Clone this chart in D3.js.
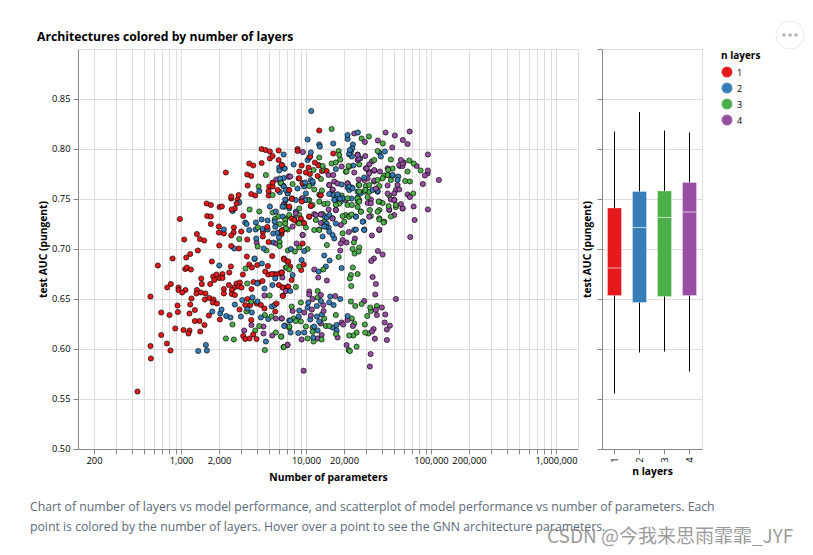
<!DOCTYPE html>
<html><head><meta charset="utf-8">
<script src="https://cdn.jsdelivr.net/npm/d3@7/dist/d3.min.js"></script>
<style>html,body{margin:0;padding:0;background:#fff;}svg{display:block;}text{font-family:"Open Sans","Noto Sans",sans-serif;}</style>
</head><body><div id="chart"></div>
<script>
// each row: [log10(number of parameters), test AUC]
const layer1 = [[3.641,.8005],[3.673,.7995],[3.707,.798],[3.777,.799],[3.729,.7935],[3.707,.791],[3.777,.7895],[3.542,.786],[3.574,.784],[3.641,.7865],[3.803,.7845],[3.355,.777],[3.526,.775],[3.558,.7735],[3.729,.767],[3.529,.764],[3.702,.763],[3.729,.763],[3.769,.7595],[3.697,.7585],[3.697,.754],[3.558,.7555],[3.59,.754],[3.457,.7545],[3.398,.753],[3.398,.751],[3.449,.75],[3.441,.746],[3.427,.741],[3.401,.74],[3.201,.746],[3.235,.7445],[3.305,.7425],[3.323,.743],[3.494,.7335],[2.987,.7305],[3.206,.7335],[3.235,.733],[3.235,.7255],[3.299,.723],[3.419,.722],[3.299,.717],[3.339,.716],[3.417,.717],[3.398,.714],[3.478,.718],[3.651,.7175],[3.651,.713],[3.686,.7225],[3.803,.719],[3.801,.7155],[3.022,.71],[3.123,.7155],[3.147,.7105],[3.182,.709],[3.526,.71],[3.697,.7075],[3.302,.704],[3.398,.7035],[3.459,.701],[3.07,.6955],[3.131,.699],[2.929,.691],[3.038,.692],[3.523,.693],[3.726,.6935],[3.819,.691],
[2.811,.684],[3.243,.688],[3.395,.683],[3.542,.685],[3.606,.6845],[3.563,.682],[3.691,.6835],[3.67,.678],[3.03,.6805],[3.043,.682],[3.075,.68],[3.382,.677],[3.491,.675],[3.158,.671],[3.254,.673],[3.28,.675],[3.328,.6755],[3.328,.6715],[3.302,.6715],[3.262,.6695],[3.163,.6655],[3.23,.6655],[2.915,.6655],[2.886,.662],[2.976,.662],[2.976,.6595],[3.032,.6595],[3.006,.657],[3.123,.6595],[3.12,.656],[3.155,.657],[3.192,.656],[3.08,.651],[3.187,.65],[3.222,.6515],[3.256,.65],[3.251,.647],[3.283,.646],[2.752,.653],[2.968,.644],[3.07,.645],[3.107,.6395],[2.971,.6375],[2.838,.637],[2.904,.6345],[3.064,.636],[3.219,.634],[3.107,.6285],[3.144,.6285],[3.184,.6245],[3.307,.63],[2.95,.621],[3.016,.6195],[3.064,.619],[3.056,.616],[3.15,.618],[2.838,.6145],[2.883,.606],[2.752,.6035],[2.912,.599],[2.755,.591],[2.648,.558],[3.379,.6645],[3.422,.662],[3.44,.666],[3.467,.667],[3.456,.663],[3.48,.662],[3.576,.6675],[3.616,.667],[3.648,.6685],[3.339,.6605],[3.339,.656],[3.403,.6595],[3.403,.6555],[3.427,.6545],[3.56,.6605],[3.779,.6645],[3.811,.662],[3.849,.6625],[3.811,.6535],[3.528,.6505],[3.51,.6445],[3.55,.6445],[3.6,.646],[3.635,.6445],[3.664,.641],[3.76,.646],[3.75,.638],[3.464,.64],[3.558,.6295],[3.494,.6135],[3.51,.6105],[3.544,.611],[3.6,.6105],[3.574,.615],[3.694,.675],[3.723,.6755],[3.755,.675],[3.782,.676],[3.803,.677],[3.848,.688],
[4.102,.819],[3.929,.8005],[3.929,.7985],[4.214,.796],[4.03,.793],[4.067,.787],[4.097,.784],[3.961,.784],[4.017,.782],[3.942,.778],[3.995,.777],[4.123,.7785],[4.161,.7785],[4.027,.7755],[4.089,.7735],[3.803,.7845],[3.937,.771],[3.969,.766],[3.857,.7595],[3.883,.7505],[3.963,.748],[4.11,.754],[4.035,.7435],[3.862,.743],[4.022,.733],[3.883,.731],[3.974,.727],[3.929,.727],
[3.822,.69],[3.854,.688],[3.977,.685],[3.958,.6795],[3.87,.683],[3.803,.677],[3.881,.6695],[3.854,.663],[3.809,.662],[3.811,.654],[3.969,.706],[3.801,.718],
[3.862,.7595],[3.849,.7562],[3.883,.7512],[3.969,.7662],[3.942,.7712],[3.902,.7295],[3.982,.7262],[4.022,.7328],[3.955,.731],[4.115,.7545],[4.035,.7438],[3.795,.7178],[3.809,.7195]];
const layer2 = [[3.817,.795],[3.782,.782],[3.782,.779],[3.825,.781],[3.787,.771],[3.819,.7715],[3.707,.743],[3.622,.7585],[3.819,.763],[3.835,.7595],[3.787,.7575],[3.835,.7495],[3.462,.747],[3.409,.7385],[3.755,.738],[3.51,.727],[3.521,.7255],[3.595,.727],[3.641,.73],[3.689,.729],[3.593,.72],[3.542,.7195],[3.649,.7205],[3.689,.72],[3.339,.72],[3.75,.7228],[3.734,.716],[3.769,.7168],[3.779,.712],[3.598,.711],[3.734,.707],[3.422,.701],[3.657,.701],[3.585,.691],[3.745,.728],
[3.302,.684],[3.584,.6905],[3.643,.686],[3.606,.666],[3.664,.661],[3.728,.6645],[3.75,.671],[3.427,.645],[3.486,.6495],[3.568,.652],[3.528,.641],[3.563,.637],[3.608,.648],[3.475,.633],[3.32,.64],[3.246,.638],[3.31,.636],[3.358,.6335],[3.392,.632],[3.635,.632],[3.694,.6305],[3.723,.643],[3.744,.6445],[3.862,.629],[3.822,.6235],[3.675,.608],[3.195,.6045],[3.134,.5985],[3.203,.599],
[4.038,.8385],[4.009,.81],[4.102,.805],[4.107,.803],[4.214,.806],[4.329,.8145],[4.329,.8105],[4.411,.817],[4.371,.805],[4.366,.801],[4.347,.7995],[4.342,.795],[4.355,.798],[4.363,.793],[4.43,.791],[4.035,.797],[4.009,.7895],[3.897,.785],[3.822,.781],[4.022,.792],[4.235,.7805],[4.374,.784],[4.582,.797],[4.627,.798],[4.595,.793],[4.689,.774],[4.734,.773],[4.729,.7695],[4.462,.772],[4.182,.7645],[4.281,.765],[4.329,.762],[4.363,.762],[4.342,.7595],[4.569,.7585],[4.182,.7555],[4.214,.7545],[4.249,.7545],[4.241,.751],[4.267,.751],[4.222,.7495],[4.275,.748],[4.361,.751],[4.43,.756],[4.049,.768],[3.99,.767],[3.929,.761],[3.982,.763],[3.995,.756],[3.83,.75],[3.99,.7495],[3.915,.7495],[4.142,.7335],[4.163,.732],[4.182,.7345],[4.142,.723],[4.177,.722],[4.161,.726],[4.395,.733],[4.235,.726],[4.395,.72],[4.454,.728],[4.462,.72],[3.809,.733],[3.902,.731],
[4.129,.713],[4.222,.711],[4.382,.7195],[4.462,.7195],[3.982,.6985],[3.875,.7005],[4.142,.694],[4.185,.689],[4.155,.683],[4.281,.6815],[4.097,.678],[3.961,.6895],[3.889,.6745],[3.87,.6585],[4.19,.653],[4.182,.647],[4.217,.6445],[4.27,.6505],[4.115,.6485],[4.014,.647],[4.083,.6435],[4.009,.642],[3.942,.639],[4.123,.635],[4.083,.633],[3.87,.629],[3.937,.633],[4.03,.63],[4.102,.628],[3.827,.624],[4.062,.623],[4.089,.619],[4.209,.622],[4.241,.6245],[4.241,.619],[4.329,.6335],[3.873,.617],[3.934,.6165],[3.982,.617],[4.054,.612],
[4.249,.7552],[4.235,.7505],[4.289,.7512],[3.814,.7638],[3.849,.7562],[3.809,.7428],[3.915,.7378],[3.862,.7412],[4.155,.7228],[4.182,.7178],[4.209,.7145],[4.049,.7662],[4.035,.7695],[4.342,.796],[4.342,.7628],[4.369,.7612],[4.409,.7578],[4.569,.7578],[4.529,.7595],[4.395,.7328],[4.689,.7745],[4.449,.7278]];
const layer3 = [[3.675,.7745],[3.617,.763],[3.545,.74],[3.622,.738],[3.731,.737],[3.774,.733],[3.747,.7305],[3.787,.7255],[3.83,.7295],[3.83,.726],[3.849,.72],[3.462,.7105],[3.609,.703],[3.785,.7075],[3.785,.7035],[3.678,.699],[3.851,.699],[3.793,.767],[3.729,.7545],[3.611,.722],
[3.512,.681],[3.835,.682],[3.526,.666],[3.705,.654],[3.558,.648],[3.52,.638],[3.667,.6345],[3.72,.633],[3.408,.625],[3.622,.6235],[3.59,.619],[3.755,.617],[3.798,.613],[3.355,.611],[3.419,.61],[3.667,.5995],[3.816,.6025],[3.862,.623],
[4.201,.8205],[4.499,.813],[4.441,.811],[4.611,.806],[4.569,.7985],[4.257,.7985],[4.262,.7945],[4.27,.79],[4.201,.786],[4.235,.787],[4.102,.792],[4.129,.7835],[4.097,.7845],[4.142,.7795],[4.057,.7795],[4.337,.7835],[4.321,.778],[4.422,.785],[4.542,.7895],[4.675,.79],[4.689,.781],[4.654,.7795],[4.622,.774],[4.654,.7745],[4.822,.789],[4.857,.786],[4.809,.778],[4.913,.779],[4.79,.7685],[4.827,.768],[4.854,.756],[4.569,.7695],[4.542,.768],[4.417,.7645],[4.475,.7635],[4.502,.7645],[4.47,.7595],[4.409,.752],[4.422,.7495],[4.409,.748],[4.489,.7525],[4.422,.758],[4.582,.7635],[4.662,.754],[4.715,.7425],[4.657,.7435],[4.577,.748],[4.609,.7465],[4.582,.7395],[4.507,.7395],[4.409,.7425],[4.363,.7445],[4.329,.7445],[4.281,.754],[4.262,.746],[4.235,.7445],[4.123,.759],[4.102,.755],[4.022,.7495],[4.142,.7455],[4.169,.746],[4.049,.7445],[3.942,.741],[3.942,.7345],[3.889,.7655],[3.795,.7665],[4.022,.7635],[4.062,.76],[4.115,.7705],[4.342,.7335],[4.289,.7335],[4.361,.735],[4.435,.738],[4.515,.7335],[4.582,.73],[4.617,.727],[4.675,.733],[4.075,.7295],[4.129,.7355],[3.835,.731],[3.942,.726],[3.995,.722],[4.102,.72],
[4.163,.7045],[4.257,.6925],[4.422,.702],[4.417,.698],[4.369,.7005],[4.385,.696],[4.379,.707],[4.134,.68],[4.371,.682],[4.355,.6745],[4.347,.671],[4.409,.6755],[4.358,.6635],[3.942,.683],[3.942,.702],[3.907,.698],[4.009,.7005],[3.841,.682],[3.862,.68],[3.915,.6625],[4.089,.6585],[4.089,.652],[3.955,.647],[3.881,.643],[4.355,.648],[4.39,.6435],[4.441,.6455],[4.563,.6435],[4.51,.642],[4.515,.6385],[4.486,.6335],[4.235,.6345],[3.897,.631],[3.915,.6285],[3.995,.623],[3.955,.628],[4.142,.631],[4.155,.6235],[4.182,.6235],[4.049,.622],[4.363,.631],[4.382,.626],[4.467,.625],[4.47,.617],[4.494,.616],[4.401,.617],[4.374,.614],[4.342,.614],[4.235,.6155],[4.049,.6178],[3.862,.6218],[3.798,.6128],[4.009,.611],[4.121,.61],[4.057,.608],[3.819,.6025],[4.337,.5995],[4.401,.6028],[4.347,.5985],
[3.795,.7662],[3.822,.7428],[3.862,.7345],[3.835,.7212],[4.062,.7195],[4.102,.7195],[4.142,.7278],[4.209,.7312],[4.009,.7495],[4.102,.7478],[4.302,.7278],[4.289,.7162],[4.342,.7828],[4.315,.7778],[4.422,.7645],[4.462,.7578],[4.502,.7578],[4.329,.7512],[4.409,.7512],[4.422,.7478],[4.435,.7378],[4.315,.7345],[4.342,.7328],[4.582,.7478],[4.569,.7378],[4.622,.7278],[4.582,.7312],[4.715,.7445],[4.649,.7745],[4.675,.7695],[4.609,.7712]];
const layer4 = [[3.758,.77],[3.817,.745],[3.601,.707],[3.758,.706],[3.857,.773],
[3.744,.6755],[3.808,.672],[3.835,.6585],[3.664,.654],[3.755,.631],[3.8,.631],[3.56,.6245],[3.656,.623],[3.502,.619],[3.656,.616],[3.726,.614],[3.848,.6045],
[4.825,.818],[4.707,.814],[4.633,.817],[4.382,.816],[4.571,.809],[4.467,.8075],[4.771,.8095],[4.809,.8055],[4.686,.802],[4.971,.795],[3.971,.7975],[4.409,.795],[4.417,.791],[4.47,.7935],[4.523,.788],[4.502,.785],[4.281,.783],[4.481,.781],[4.497,.778],[4.382,.777],[4.542,.7795],[4.587,.778],[4.755,.7895],[4.777,.787],[4.747,.7835],[4.769,.7835],[4.881,.7835],[4.971,.779],[4.969,.776],[4.947,.774],[4.931,.7655],[5.059,.7695],[4.417,.77],[4.489,.771],[4.542,.769],[4.177,.7745],[4.214,.7745],[3.87,.773],[4.222,.768],[4.249,.766],[4.329,.766],[4.209,.76],[4.649,.764],[4.729,.7645],[4.715,.7595],[4.742,.76],[4.649,.756],[4.702,.756],[4.809,.755],[4.827,.7525],[4.702,.7495],[4.675,.75],[4.755,.7455],[4.769,.741],[4.857,.743],[4.971,.74],[4.865,.7295],[4.555,.761],[4.515,.75],[4.489,.7465],[4.662,.74],[4.177,.74],[4.235,.7395],[4.315,.7495],[4.115,.735],[4.062,.7355],[4.115,.7265],[4.209,.731],[3.822,.7455],[3.963,.751],[3.915,.736],[3.889,.723],[4.582,.72],
[4.339,.7175],[4.387,.711],[4.321,.707],[4.289,.7095],[4.275,.706],[4.27,.699],[4.582,.7195],[4.523,.714],[4.83,.7125],[4.571,.6985],[4.609,.695],[4.539,.691],[4.518,.6885],[3.921,.706],[3.969,.7145],[4.062,.68],[4.094,.672],[4.163,.669],[4.529,.6725],[4.555,.6655],[4.55,.655],[4.715,.6505],[4.462,.6485],[4.603,.642],[4.555,.6395],[4.563,.6345],[4.63,.635],[4.625,.627],[4.667,.6238],[4.643,.62],[4.537,.6205],[4.523,.618],[4.547,.6108],[4.643,.6095],[4.321,.6045],[4.513,.5955],[4.507,.583],[3.977,.5788],[3.849,.6048],[3.961,.61],[4.089,.611],[4.249,.612],[4.121,.6145],[3.803,.631],[3.889,.6385],[3.982,.637],[4.022,.658],[4.022,.655],[4.049,.6505],[4.115,.6545],[4.23,.6535],[4.134,.6445],[4.043,.64],[4.035,.634],[4.137,.6385],[4.115,.626],[4.281,.627],[4.294,.625],[4.329,.6295],[4.371,.6235],
[3.862,.7728],[3.969,.7512],[4.075,.7345],[4.115,.7352],[4.182,.7645],[4.209,.7595],[4.275,.7245],[3.969,.7145],[4.235,.7395],[4.409,.7945],[4.409,.7895],[4.329,.7662],[4.462,.7695],[4.475,.7812],[4.502,.7762],[4.542,.7788],[4.742,.7845],[4.769,.7862],[4.649,.7812],[4.702,.7495],[4.662,.7395],[4.702,.7345],[4.769,.7412],[4.515,.7462],[4.502,.7328]];

const layers = ["1","2","3","4"];
const colors = ["#e41a1c","#377eb8","#4daf4a","#984ea3"];
// box plot: whisker low, q1, median, q3, whisker high
const boxLow = [.556,.597,.598,.578];
const boxQ1 = [.654,.647,.653,.654];
const boxMedian = [.6815,.722,.732,.7375];
const boxQ3 = [.7415,.758,.7585,.767];
const boxHigh = [.818,.8375,.819,.817];

const xTicks = [200,300,400,500,600,700,800,900,1000,2000,3000,4000,5000,6000,7000,8000,9000,10000,20000,30000,40000,50000,60000,70000,80000,90000,100000,200000,300000,400000,500000,600000,700000,800000,900000,1000000];
const xLabelled = [200,1000,2000,10000,20000,100000,200000,1000000];
const yTicks = [.50,.55,.60,.65,.70,.75,.80,.85];
const boxYTicks = [.50,.55,.60,.65,.70,.75,.80,.85,.90];
const titleText = "Architectures colored by number of layers";
const xTitle = "Number of parameters";
const yTitle = "test AUC (pungent)";
const boxXTitle = "n layers";
const legendTitle = "n layers";
const captionLines = ["Chart of number of layers vs model performance, and scatterplot of model performance vs number of parameters. Each","point is colored by the number of layers. Hover over a point to see the GNN architecture parameters."];
const watermark = "CSDN @今我来思雨霏霏_JYF";

const svg = d3.select("#chart").append("svg").attr("width",813).attr("height",555);
const grid = "#ddd", axisCol = "#888", txt = "#000";
const x = d3.scaleLog().domain([150,1500000]).range([78.5,578.5]);
const y = d3.scaleLinear().domain([.5,.9]).range([449.5,49.5]);
const xBand = d3.scaleBand().domain(layers).range([602.5,702.5]).padding(0);
const color = d3.scaleOrdinal().domain(layers).range(colors);
const F = '"Open Sans","Noto Sans",sans-serif';
const tickFont = 9.3;

// scatter panel grid
const g = svg.append("g");
g.selectAll(".gx").data(xTicks).join("line").attr("x1",d=>Math.round(x(d))+.5).attr("x2",d=>Math.round(x(d))+.5).attr("y1",49.5).attr("y2",449.5).attr("stroke",grid);
g.selectAll(".gy").data(boxYTicks).join("line").attr("x1",78.5).attr("x2",578.5).attr("y1",d=>y(d)).attr("y2",d=>y(d)).attr("stroke",grid);
g.append("line").attr("x1",578.5).attr("x2",578.5).attr("y1",49.5).attr("y2",449.5).attr("stroke",grid);

// scatter points
const all = [];
[layer1,layer2,layer3,layer4].forEach((arr,k)=>arr.forEach((d,i)=>all.push({n:layers[k],p:Math.pow(10,d[0]),auc:d[1],i})));
all.sort((a,b)=>(a.i%5)-(b.i%5) || (+b.n)-(+a.n));
g.selectAll(".pt").data(all).join("circle").attr("cx",d=>x(d.p)).attr("cy",d=>y(d.auc)).attr("r",2.6)
 .attr("fill",d=>color(d.n)).attr("stroke","#000").attr("stroke-opacity",.65).attr("stroke-width",1);

// axes
function style(sel){
  sel.select(".domain").attr("stroke",axisCol);
  sel.selectAll(".tick line").attr("stroke",axisCol);
  sel.selectAll("text").attr("font-size",tickFont).attr("fill",txt).attr("font-family",F);
}
const xAxis = d3.axisBottom(x).offset(0).tickValues(xTicks).tickSize(5).tickSizeOuter(0).tickFormat(d=>xLabelled.includes(d)?d3.format(",")(d):"");
const xG = svg.append("g").attr("transform","translate(0,449.5)").call(xAxis).call(style);
xG.selectAll(".tick").attr("transform",d=>`translate(${Math.round(x(d))+.5},0)`);
const yAxis = d3.axisLeft(y).offset(0).tickValues(yTicks).tickSize(5).tickSizeOuter(0).tickFormat(d3.format(".2f"));
svg.append("g").attr("transform","translate(78.5,0)").call(yAxis).call(style);

svg.append("text").attr("x",37).attr("y",41).attr("font-size",12.2).attr("font-weight",700).attr("fill",txt).text(titleText);
svg.append("text").attr("x",328.5).attr("y",481).attr("text-anchor","middle").attr("font-size",10.3).attr("font-weight",700).text(xTitle);
svg.append("text").attr("transform","translate(46.5,249.5) rotate(-90)").attr("text-anchor","middle").attr("font-size",10.3).attr("font-weight",700).text(yTitle);

// box panel
const b = svg.append("g");
b.selectAll(".gy").data(boxYTicks).join("line").attr("x1",602.5).attr("x2",702.5).attr("y1",d=>y(d)).attr("y2",d=>y(d)).attr("stroke",grid);
b.append("line").attr("x1",702.5).attr("x2",702.5).attr("y1",49.5).attr("y2",449.5).attr("stroke",grid);
const boxW = 14;
const cx = l=>xBand(l)+xBand.bandwidth()/2-.5;
b.selectAll(".wh").data(layers).join("line").attr("x1",cx).attr("x2",cx).attr("y1",(d,i)=>y(boxHigh[i])).attr("y2",(d,i)=>y(boxLow[i])).attr("stroke","#000");
b.selectAll(".bx").data(layers).join("rect").attr("x",d=>cx(d)-boxW/2).attr("width",boxW).attr("y",(d,i)=>y(boxQ3[i])).attr("height",(d,i)=>y(boxQ1[i])-y(boxQ3[i])).attr("fill",d=>color(d)).attr("stroke","#fff").attr("stroke-opacity",.3);
b.selectAll(".md").data(layers).join("line").attr("x1",d=>cx(d)-boxW/2).attr("x2",d=>cx(d)+boxW/2).attr("y1",(d,i)=>y(boxMedian[i])).attr("y2",(d,i)=>y(boxMedian[i])).attr("stroke","#fff").attr("stroke-opacity",.65);
const bxAxis = d3.axisBottom(xBand).offset(0).tickSize(5).tickSizeOuter(0);
const bxG = svg.append("g").attr("transform","translate(-.5,449.5)").call(bxAxis).call(style);
bxG.select(".domain").attr("d","M603,0H703");
bxG.selectAll("text").attr("transform","rotate(-90)").attr("text-anchor","end").attr("dx","-8").attr("dy","3.5").attr("y",0).attr("x",0);
const byAxis = d3.axisLeft(y).offset(0).tickValues(boxYTicks).tickSize(5).tickSizeOuter(0).tickFormat("");
svg.append("g").attr("transform","translate(602.5,0)").call(byAxis).call(style);
svg.append("text").attr("x",652.5).attr("y",475).attr("text-anchor","middle").attr("font-size",10.3).attr("font-weight",700).text(boxXTitle);
svg.append("text").attr("transform","translate(590.5,249.5) rotate(-90)").attr("text-anchor","middle").attr("font-size",10.3).attr("font-weight",700).text(yTitle);

// legend
const lg = svg.append("g").attr("transform","translate(721,0)");
lg.append("text").attr("x",0).attr("y",59).attr("font-size",10).attr("font-weight",700).text(legendTitle);
const ly = d3.scalePoint().domain(layers).range([72,120]);
lg.selectAll("circle").data(layers).join("circle").attr("cx",6).attr("cy",d=>ly(d)).attr("r",5.5).attr("fill",d=>color(d)).attr("stroke","#fff").attr("stroke-opacity",.3);
lg.selectAll(".lab").data(layers).join("text").attr("x",16).attr("y",d=>ly(d)+3.5).attr("font-size",9).attr("fill",txt).text(d=>d);

// caption
svg.selectAll(".cap").data(captionLines).join("text").attr("x",30).attr("y",(d,i)=>511+i*20).attr("font-size",12.25).attr("fill","#5c6a78").text(d=>d);

// watermark
svg.append("text").attr("x",547).attr("y",543).attr("font-size",19).attr("fill","#808080").attr("fill-opacity",.8).style("font-family",'"Noto Sans CJK SC",sans-serif').text(watermark);

// menu button
svg.append("circle").attr("cx",790).attr("cy",35).attr("r",14).attr("fill","#fff").attr("stroke","#eaeaea");
svg.selectAll(".dot").data([-6,0,6]).join("circle").attr("cx",d=>790+d).attr("cy",35).attr("r",1.8).attr("fill","#b5b5b5");
</script></body></html>
